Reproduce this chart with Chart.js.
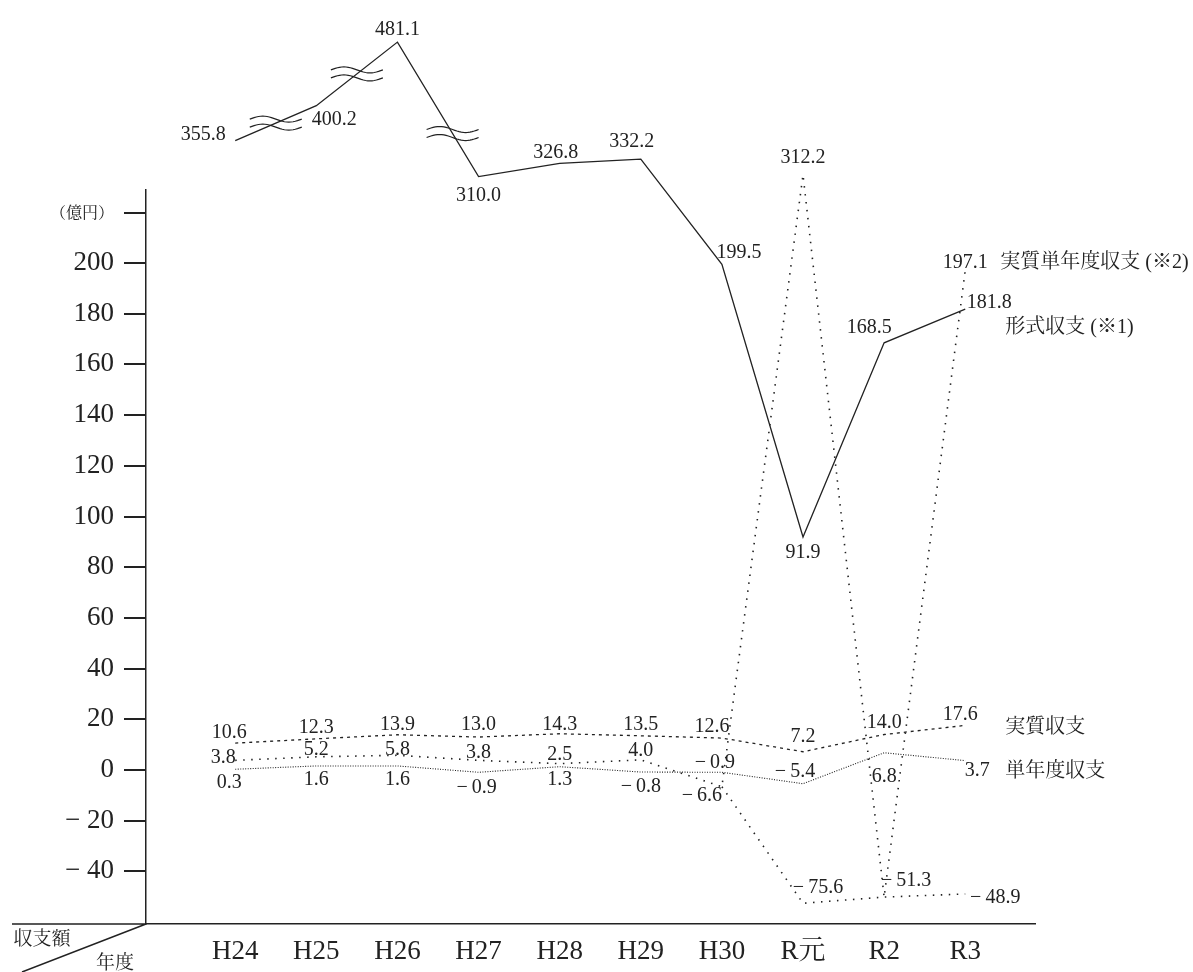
<!DOCTYPE html>
<html lang="ja">
<head>
<meta charset="utf-8">
<title>収支の推移</title>
<script src="https://cdn.jsdelivr.net/npm/chart.js@4.4.1/dist/chart.umd.min.js"></script>
<style>
  html, body { margin: 0; padding: 0; background: #fff; }
  #wrap { position: relative; width: 1193px; height: 972px; }
</style>
</head>
<body>
<div id="wrap"><canvas id="plot"></canvas></div>
<script>
// 年度
var years = ['H24', 'H25', 'H26', 'H27', 'H28', 'H29', 'H30', 'R元', 'R2', 'R3'];

// 収支額（億円）
var keishiki = [355.8, 400.2, 481.1, 310.0, 326.8, 332.2, 199.5, 91.9, 168.5, 181.8];
var jisshitsu = [10.6, 12.3, 13.9, 13.0, 14.3, 13.5, 12.6, 7.2, 14.0, 17.6];
var tannendo = [0.3, 1.6, 1.6, -0.9, 1.3, -0.8, -0.9, -5.4, 6.8, 3.7];
var jisshitsuTannendo = [3.8, 5.2, 5.8, 3.8, 2.5, 4.0, -6.6, 312.2, -51.3, 197.1];
var jisshitsuTannendoLow = [null, null, null, null, null, null, -6.6, -75.6, -51.3, -48.9];

// y軸の目盛
var yTicks = [-40, -20, 0, 20, 40, 60, 80, 100, 120, 140, 160, 180, 200];
var yUnit = '（億円）';
var yUnitAt = 263;

var FONT = "'Liberation Serif', 'Noto Serif CJK JP', 'Noto Sans CJK JP', serif";
var INK = '#222';
var MINUS = '\u2212\u2009';

// 200超・-50未満は縮めて描く（波線で省略）
var HI = 200, K_HI = 0.31;
var LO = -50, K_LO = 0.1;
function squash(v) {
  if (v > HI) return HI + (v - HI) * K_HI;
  if (v < LO) return LO + (v - LO) * K_LO;
  return v;
}
function unsquash(s) {
  if (s > HI) return HI + (s - HI) / K_HI;
  if (s < LO) return LO + (s - LO) / K_LO;
  return s;
}

class BrokenScale extends Chart.LinearScale {
  configure() {
    super.configure();
    this._startValue = squash(this.min);
    this._endValue = squash(this.max);
    this._valueRange = this._endValue - this._startValue;
  }
  getPixelForValue(v) {
    if (v === null || v === undefined) return NaN;
    return super.getPixelForValue(squash(v));
  }
  getValueForPixel(p) {
    return unsquash(super.getValueForPixel(p));
  }
}
BrokenScale.id = 'broken';
BrokenScale.defaults = {};
Chart.register(BrokenScale);

function fmt(v) {
  return v < 0 ? MINUS + Math.abs(v).toFixed(1) : v.toFixed(1);
}

var valueLabels = {
  id: 'valueLabels',
  afterDatasetsDraw: function (chart) {
    var ctx = chart.ctx;
    ctx.save();
    ctx.fillStyle = INK;
    ctx.textBaseline = 'middle';
    chart.data.datasets.forEach(function (ds, di) {
      var meta = chart.getDatasetMeta(di);
      ctx.font = '20px ' + FONT;
      ctx.textAlign = 'center';
      ds.data.forEach(function (v, i) {
        var off = ds.labelOffsets[i];
        if (v === null || !off) return;
        var pt = meta.data[i];
        ctx.fillText(fmt(v), pt.x + off[0], pt.y + off[1]);
      });
      if (ds.nameTag) {
        var last = meta.data[ds.data.length - 1];
        ctx.font = '20px ' + FONT;
        ctx.textAlign = 'left';
        ctx.fillText(ds.label, last.x + ds.nameTag[0], last.y + ds.nameTag[1]);
      }
    });
    ctx.restore();
  }
};

// 形式収支の省略記号（≈）
var breakMarks = {
  id: 'breakMarks',
  afterDatasetsDraw: function (chart) {
    var ctx = chart.ctx;
    var meta = chart.getDatasetMeta(0);
    ctx.save();
    ctx.strokeStyle = INK;
    ctx.lineWidth = 1.2;
    [[0, 0.5], [1, 0.5], [2, 0.68]].forEach(function (b) {
      var p = meta.data[b[0]], q = meta.data[b[0] + 1];
      var cx = p.x + (q.x - p.x) * b[1];
      var cy = p.y + (q.y - p.y) * b[1];
      [-4, 4].forEach(function (dy) {
        ctx.beginPath();
        for (var k = 0; k <= 24; k++) {
          var x = -26 + 52 * k / 24;
          var y = -3 * Math.sin(2 * Math.PI * (x + 26) / 52);
          if (k === 0) ctx.moveTo(cx + x, cy + dy + y);
          else ctx.lineTo(cx + x, cy + dy + y);
        }
        ctx.stroke();
      });
    });
    ctx.restore();
  }
};

// 左下の見出し欄
var cornerHead = {
  id: 'cornerHead',
  afterDraw: function (chart) {
    var ctx = chart.ctx, a = chart.chartArea;
    ctx.save();
    ctx.strokeStyle = INK;
    ctx.lineWidth = 1.5;
    ctx.beginPath();
    ctx.moveTo(12, a.bottom);
    ctx.lineTo(a.left, a.bottom);
    ctx.moveTo(a.left, a.bottom);
    ctx.lineTo(a.left - 124, a.bottom + 48);
    ctx.stroke();
    ctx.fillStyle = INK;
    ctx.font = '19px ' + FONT;
    ctx.textAlign = 'center';
    ctx.textBaseline = 'middle';
    ctx.fillText('収支額', 42, a.bottom + 16);
    ctx.fillText('年度', 115, a.bottom + 40);
    ctx.restore();
  }
};

var chart = new Chart(document.getElementById('plot'), {
  type: 'line',
  data: {
    labels: years.map(function (_, i) { return i; }),
    datasets: [
      {
        label: '形式収支 (※1)',
        data: keishiki,
        borderColor: INK,
        borderWidth: 1.3,
        labelOffsets: [[-32, -6], [18, 14], [0, -12], [0, 19], [-4, -11], [-9, -17], [17, -12], [0, 16], [-15, -15], [24, -6]],
        nameTag: [40, 19],
      },
      {
        label: '実質収支',
        data: jisshitsu,
        borderColor: INK,
        borderWidth: 1.3,
        borderDash: [3, 4],
        labelOffsets: [[-6, -10], [0, -11], [0, -10], [0, -12], [0, -9], [0, -11], [-10, -11], [0, -15], [0, -12], [-5, -11]],
        nameTag: [40, 2],
      },
      {
        label: '単年度収支',
        data: tannendo,
        borderColor: INK,
        borderWidth: 1.1,
        borderDash: [1, 1.5],
        labelOffsets: [[-6, 14], [0, 14], [0, 14], [-2, 15], [0, 13], [0, 15], [-7, -10], [-8, -12], [0, 24], [12, 10]],
        nameTag: [40, 11],
      },
      {
        label: '実質単年度収支 (※2)',
        data: jisshitsuTannendo,
        borderColor: INK,
        borderWidth: 1.6,
        borderDash: [1.5, 6.5],
        labelOffsets: [[-12, -3], [0, -7], [0, -6], [0, -8], [0, -9], [0, -9], [-20, 9], [0, -17], [22, -16], [0, -8]],
        nameTag: [35, -8],
      },
      {
        label: '',
        data: jisshitsuTannendoLow,
        borderColor: INK,
        borderWidth: 1.6,
        borderDash: [1.5, 6.5],
        labelOffsets: [null, null, null, null, null, null, null, [15, -15], null, [30, 4]],
      },
    ],
  },
  options: {
    responsive: true,
    maintainAspectRatio: false,
    animation: false,
    events: [],
    layout: { padding: { top: 190, right: 158, left: 0, bottom: 0 } },
    elements: { point: { radius: 0 }, line: { tension: 0 } },
    datasets: { line: { clip: false } },
    plugins: { legend: { display: false }, tooltip: { enabled: false } },
    scales: {
      x: {
        type: 'linear',
        position: 'bottom',
        min: -1.1,
        max: 9.86,
        bounds: 'data',
        afterBuildTicks: function (s) {
          s.ticks = years.map(function (_, i) { return { value: i }; });
        },
        afterFit: function (s) { s.height = 48; },
        grid: { display: false, drawTicks: false },
        border: { display: true, color: INK, width: 1.5 },
        ticks: {
          color: INK,
          padding: 12,
          maxRotation: 0,
          autoSkip: false,
          font: { family: FONT, size: 27 },
          callback: function (v) { return years[v] !== undefined ? years[v] : ''; },
        },
      },
      y: {
        type: 'broken',
        position: 'left',
        min: -157.5,
        max: 292.9,
        bounds: 'data',
        afterBuildTicks: function (s) {
          s.ticks = yTicks.concat([yUnitAt]).map(function (v) { return { value: v }; });
        },
        afterFit: function (s) { s.width = 146; },
        grid: { display: true, drawOnChartArea: false, drawTicks: true, tickLength: 22, lineWidth: 2, color: INK },
        border: { display: true, color: INK, width: 1.5 },
        ticks: {
          color: INK,
          padding: 10,
          autoSkip: false,
          font: function (c) {
            return c.tick && c.tick.value === yUnitAt ? { family: FONT, size: 16 } : { family: FONT, size: 27 };
          },
          callback: function (v) {
            if (v === yUnitAt) return yUnit;
            return v < 0 ? '\u2212 ' + Math.abs(v) : String(v);
          },
        },
      },
    },
  },
  plugins: [valueLabels, breakMarks, cornerHead],
});
</script>
</body>
</html>
